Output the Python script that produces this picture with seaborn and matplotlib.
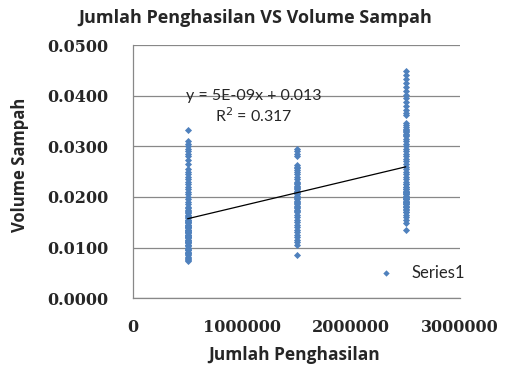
import numpy as np
import pandas as pd
import matplotlib.pyplot as plt
import seaborn as sns

# penghasilan groups (x) and volume sampah readings (y)
x_levels = [500000, 1500000, 2500000]
vol_500k = [0.0333, 0.0310, 0.0305, 0.0300, 0.0295, 0.0290, 0.0285, 0.0280, 0.0272, 0.0265,
            0.0255, 0.0250, 0.0245, 0.0240, 0.0235, 0.0230, 0.0225, 0.0220, 0.0215, 0.0210,
            0.0205, 0.0200, 0.0195, 0.0190, 0.0185, 0.0180, 0.0178, 0.0175, 0.0172, 0.0170,
            0.0168, 0.0165, 0.0162, 0.0160, 0.0158, 0.0155, 0.0152, 0.0150, 0.0148, 0.0145,
            0.0142, 0.0140, 0.0138, 0.0135, 0.0132, 0.0130, 0.0128, 0.0125, 0.0122, 0.0120,
            0.0118, 0.0115, 0.0112, 0.0110, 0.0108, 0.0105, 0.0102, 0.0100, 0.0098, 0.0095,
            0.0092, 0.0090, 0.0088, 0.0085, 0.0082, 0.0080, 0.0078, 0.0075, 0.0073, 0.0155,
            0.0150, 0.0145, 0.0140, 0.0135, 0.0130, 0.0125, 0.0120, 0.0115, 0.0110, 0.0105,
            0.0100, 0.0140, 0.0130, 0.0120, 0.0095, 0.0090, 0.0110, 0.0125, 0.0135]
vol_1500k = [0.0295, 0.0290, 0.0285, 0.0280, 0.0263, 0.0260, 0.0257, 0.0254, 0.0250, 0.0245,
             0.0240, 0.0235, 0.0230, 0.0228, 0.0225, 0.0222, 0.0220, 0.0218, 0.0215, 0.0212,
             0.0210, 0.0208, 0.0205, 0.0202, 0.0200, 0.0198, 0.0195, 0.0192, 0.0190, 0.0188,
             0.0185, 0.0182, 0.0180, 0.0178, 0.0175, 0.0172, 0.0170, 0.0165, 0.0160, 0.0155,
             0.0150, 0.0145, 0.0140, 0.0135, 0.0130, 0.0125, 0.0120, 0.0115, 0.0110, 0.0105,
             0.0085]
vol_2500k = [0.0448, 0.0440, 0.0432, 0.0425, 0.0418, 0.0410, 0.0402, 0.0395, 0.0388, 0.0380,
             0.0372, 0.0365, 0.0362, 0.0346, 0.0342, 0.0338, 0.0335, 0.0332, 0.0330, 0.0328,
             0.0325, 0.0322, 0.0320, 0.0315, 0.0310, 0.0305, 0.0300, 0.0295, 0.0290, 0.0285,
             0.0280, 0.0275, 0.0270, 0.0265, 0.0260, 0.0255, 0.0250, 0.0245, 0.0240, 0.0235,
             0.0230, 0.0225, 0.0220, 0.0215, 0.0210, 0.0205, 0.0200, 0.0195, 0.0190, 0.0185,
             0.0180, 0.0175, 0.0170, 0.0165, 0.0160, 0.0154, 0.0148, 0.0134, 0.0200, 0.0210,
             0.0220, 0.0190, 0.0180, 0.0205, 0.0215, 0.0195, 0.0225, 0.0185, 0.0192, 0.0198,
             0.0202, 0.0208, 0.0188, 0.0212, 0.0182, 0.0196, 0.0170, 0.0176]
x_ticks = [0, 1000000, 2000000, 3000000]
y_ticks = [0, 0.01, 0.02, 0.03, 0.04, 0.05]

df = pd.DataFrame({
    "Penghasilan": [x_levels[0]] * len(vol_500k) + [x_levels[1]] * len(vol_1500k) + [x_levels[2]] * len(vol_2500k),
    "Volume": vol_500k + vol_1500k + vol_2500k,
})

sns.set_style("white")
plt.rcParams['font.family'] = ['Open Sans', 'DejaVu Sans']

fig = plt.figure(figsize=(5.08, 3.75), dpi=100)
ax = fig.add_axes([0.262, 0.205, 0.644, 0.675])

sns.scatterplot(x="Penghasilan", y="Volume", data=df, ax=ax, marker="D", s=13,
                color="#4F81BD", linewidth=0, label="Series1", zorder=3)

# linear trendline
slope, icpt = np.polyfit(df["Penghasilan"], df["Volume"], 1)
xs = np.array([min(x_levels), max(x_levels)])
ax.plot(xs, slope * xs + icpt, color="black", lw=0.9, zorder=4)

ax.set_xlim(0, 3000000)
ax.set_ylim(0, 0.05)
ax.set_xticks(x_ticks)
ax.set_xticklabels([str(v) for v in x_ticks])
ax.set_yticks(y_ticks)
ax.set_yticklabels([f"{v:.4f}" for v in y_ticks])
for lab in ax.get_xticklabels() + ax.get_yticklabels():
    lab.set_family("DejaVu Serif")
    lab.set_fontweight("bold")
    lab.set_fontsize(11.5)
ax.tick_params(axis="x", length=0, pad=15)
ax.tick_params(axis="y", length=0, pad=18)

ax.yaxis.grid(True, color="#888888", lw=0.9)
ax.xaxis.grid(False)
for s in ["top", "right"]:
    ax.spines[s].set_visible(False)
for s in ["left", "bottom"]:
    ax.spines[s].set_color("#888888")
    ax.spines[s].set_linewidth(0.9)

ax.set_xlabel("")
ax.set_ylabel("")
fig.text(0.502, 0.952, "Jumlah Penghasilan VS Volume Sampah", fontsize=13, fontweight="bold",
         ha="center", va="center")
fig.text(0.579, 0.053, "Jumlah Penghasilan", fontsize=12.5, fontweight="bold", ha="center", va="center")
fig.text(0.040, 0.56, "Volume Sampah", fontsize=12, fontweight="bold", ha="center", va="center",
         rotation=90)

ax.text(0.37, 0.80, "y = 5E-09x + 0.013", transform=ax.transAxes, ha="center", va="center",
        fontsize=11.5, family="Lato")
ax.text(0.37, 0.72, "R$^2$ = 0.317", transform=ax.transAxes, ha="center", va="center",
        fontsize=11.5, family="Lato")

leg = ax.legend(loc="lower right", frameon=False, prop={"family": "Lato", "size": 12},
                handletextpad=0.5, bbox_to_anchor=(1.06, 0.01), markerscale=0.9)

fig.savefig("out.png", dpi=100)
